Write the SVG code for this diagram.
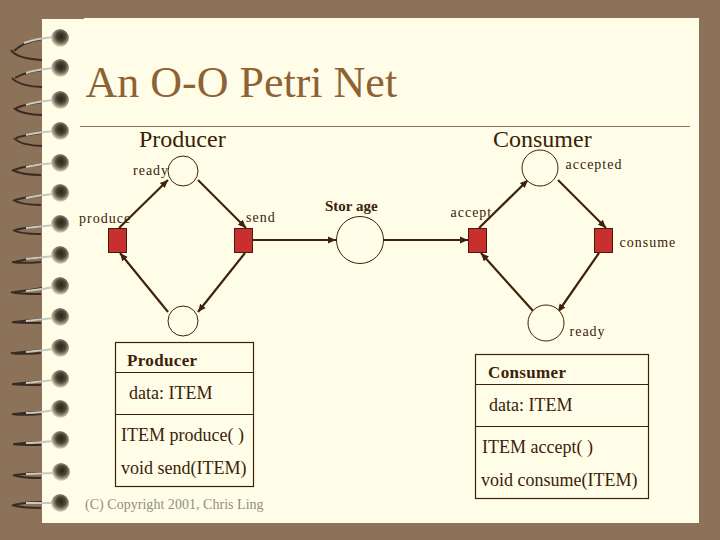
<svg xmlns="http://www.w3.org/2000/svg" width="720" height="540" viewBox="0 0 720 540">
<style>
text{font-family:"Liberation Serif","Times New Roman",serif;fill:#3a2208}
.h{font-size:24px}
.l{font-size:14px;letter-spacing:1px}
.b{font-size:17px;font-weight:bold;letter-spacing:.35px}
.m{font-size:18px}
.place{fill:#fffde8;stroke:#3a2208;stroke-width:1}
.trans{fill:#c8302f;stroke:#4a1c08;stroke-width:1}
.box{fill:none;stroke:#3a2208;stroke-width:1.2}
.arc{stroke:#3f2308;stroke-width:2.2;fill:none;marker-end:url(#ah)}
.rd{fill:none;stroke:#3a2c22;stroke-width:2}
.rl{fill:none;stroke:#c8cabf;stroke-width:2}
</style>
<defs>
<marker id="ah" markerUnits="userSpaceOnUse" markerWidth="9" markerHeight="9" refX="8" refY="4.500" orient="auto"><path d="M0 1 L8 4.500 L0 8 Z" fill="#3f2308"/></marker>
<radialGradient id="bg" cx="55%" cy="42%" r="58%"><stop offset="0" stop-color="#26241c"/><stop offset=".45" stop-color="#4a4636"/><stop offset=".75" stop-color="#97957c"/><stop offset="1" stop-color="#e6e4ca"/></radialGradient>
<filter id="soft" x="-5%" y="-5%" width="110%" height="110%"><feGaussianBlur stdDeviation=".45"/></filter>
<ellipse id="knob" cx="0" cy="0" rx="9" ry="9" fill="url(#bg)"/>
</defs>
<rect width="720" height="540" fill="#8b7259"/>
<path d="M42 19 H84 V18 H699 V523 H42 Z" fill="#fffde8"/>
<g id="spiral" filter="url(#soft)">
<path class="rd" d="M11 50 C14 55 25 59 42 60M14 51 C20 45 30 41 42 39"/><path class="rl" d="M24 43 C32 40 42 38 54 37"/>
<path class="rd" d="M12 78 C16 83 28 87 42 87M15 78 C22 74 32 71 42 70"/><path class="rl" d="M26 73 C34 70 44 69 54 68"/>
<path class="rd" d="M14 108 C18 112 30 115 42 115M16 108 C24 105 34 103 42 102"/><path class="rl" d="M26 105 C34 102 44 101 54 100"/>
<path class="rd" d="M14 138 C18 143 30 146 42 146M16 138 C24 135 34 134 42 133"/><path class="rl" d="M26 135 C34 133 44 132 54 131"/>
<path class="rd" d="M12 170 C18 173 30 175 41 175M14 170 C22 167 32 165 42 165"/><path class="rl" d="M26 167 C34 165 44 164 54 163"/>
<path class="rd" d="M13 200 C18 203 30 205 41 205M15 200 C22 198 32 196 42 196"/><path class="rl" d="M26 198 C34 196 44 195 54 194"/>
<path class="rd" d="M13 230 C18 233 30 234 41 234M15 230 C22 228 32 227 42 226"/><path class="rl" d="M26 228 C34 227 44 226 54 225"/>
<path class="rd" d="M12 262 C18 263 30 263 41 262M14 262 C22 260 32 258 42 257"/><path class="rl" d="M26 259 C34 258 44 257 54 256"/>
<path class="rd" d="M11 292 C18 294 30 294 41 294M14 292 C22 291 32 290 42 288"/><path class="rl" d="M26 291 C34 290 44 289 54 287"/>
<path class="rd" d="M12 322 C18 323 30 323 41 323M14 322 C22 321 32 320 42 319"/><path class="rl" d="M26 321 C34 320 44 319 54 318"/>
<path class="rd" d="M11 353 C18 354 30 354 41 353M14 353 C22 352 32 351 42 350"/><path class="rl" d="M26 352 C34 351 44 350 54 349"/>
<path class="rd" d="M12 384 C18 385 30 385 41 385M14 384 C22 383 32 382 42 381"/><path class="rl" d="M26 383 C34 382 44 381 54 380"/>
<path class="rd" d="M12 414 C18 415 30 415 41 414M14 414 C22 413 32 412 42 412"/><path class="rl" d="M26 413 C34 413 44 412 54 410"/>
<path class="rd" d="M13 444 C18 445 30 445 41 445M15 444 C22 443 32 442 42 442"/><path class="rl" d="M26 443 C34 443 44 442 54 441"/>
<path class="rd" d="M13 475 C18 477 30 478 41 478M15 475 C22 474 32 473 42 473"/><path class="rl" d="M26 474 C34 474 44 473 54 473"/>
<path class="rd" d="M12 505 C18 507 30 508 41 508M14 505 C22 503 32 502 42 502"/><path class="rl" d="M26 503 C34 503 44 503 54 503"/>
<use href="#knob" x="60" y="38"/><use href="#knob" x="60" y="68"/><use href="#knob" x="60" y="100"/><use href="#knob" x="60" y="131"/>
<use href="#knob" x="60" y="163"/><use href="#knob" x="60" y="193"/><use href="#knob" x="60" y="224"/><use href="#knob" x="60" y="255"/>
<use href="#knob" x="60" y="286"/><use href="#knob" x="60" y="317"/><use href="#knob" x="60" y="348"/><use href="#knob" x="60" y="379"/>
<use href="#knob" x="60" y="409"/><use href="#knob" x="60" y="440"/><use href="#knob" x="61" y="472"/><use href="#knob" x="60" y="503"/>
</g>
<text x="85.500" y="97" style="font-size:44px;fill:#8f6234">An O-O Petri Net</text>
<line x1="80" y1="126.500" x2="690" y2="126.500" stroke="#8b7259" stroke-width="1"/>
<text class="h" x="139" y="147">Producer</text>
<text class="h" x="493" y="147">Consumer</text>
<g id="connectors">
<line class="arc" x1="119" y1="228" x2="168" y2="180"/>
<line class="arc" x1="198" y1="180" x2="246" y2="228"/>
<line class="arc" x1="245" y1="253" x2="198" y2="312"/>
<line class="arc" x1="168" y1="312" x2="120" y2="253"/>
<line class="arc" x1="253" y1="240" x2="336" y2="240"/>
<line class="arc" x1="384" y1="240" x2="468" y2="240"/>
<line class="arc" x1="479" y1="228" x2="528" y2="180"/>
<line class="arc" x1="558" y1="180" x2="606" y2="228"/>
<line class="arc" x1="599" y1="253" x2="558" y2="312"/>
<line class="arc" x1="534" y1="312" x2="481" y2="253"/>
</g>
<g id="p-ready"><circle class="place" cx="183" cy="171" r="15"/><text class="l" x="133" y="175">ready</text></g>
<g id="p-idle"><circle class="place" cx="183" cy="321" r="15"/></g>
<g id="t-produce"><rect class="trans" x="108.500" y="228.500" width="18" height="24"/><text class="l" x="79" y="223">produce</text></g>
<g id="t-send"><rect class="trans" x="234.500" y="228.500" width="18" height="24"/><text class="l" x="246" y="222">send</text></g>
<g id="p-storage"><circle class="place" cx="360" cy="240" r="23.500"/><text x="325" y="211" style="font-size:15px;font-weight:bold">Stor age</text></g>
<g id="t-accept"><rect class="trans" x="468.500" y="228.500" width="18" height="24"/><text class="l" x="450.500" y="217">accept</text></g>
<g id="t-consume"><rect class="trans" x="594.500" y="228.500" width="18" height="24"/><text class="l" x="619.500" y="247">consume</text></g>
<g id="p-accepted"><circle class="place" cx="540" cy="168" r="18"/><text class="l" x="565.500" y="169">accepted</text></g>
<g id="p-ready2"><circle class="place" cx="546" cy="323" r="18"/><text class="l" x="569.500" y="336">ready</text></g>
<g id="class-producer">
<rect class="box" x="115.500" y="342.500" width="138" height="144"/>
<line class="box" x1="115.500" y1="372.500" x2="253.500" y2="372.500"/>
<line class="box" x1="115.500" y1="414.500" x2="253.500" y2="414.500"/>
<text class="b" x="127" y="366">Producer</text>
<text class="m" x="129" y="399">data: ITEM</text>
<text class="m" x="121" y="441">ITEM produce( )</text>
<text class="m" x="121" y="474">void send(ITEM)</text>
</g>
<g id="class-consumer">
<rect class="box" x="475.500" y="354.500" width="173" height="144"/>
<line class="box" x1="475.500" y1="384.500" x2="648.500" y2="384.500"/>
<line class="box" x1="475.500" y1="426.500" x2="648.500" y2="426.500"/>
<text class="b" x="488" y="378">Consumer</text>
<text class="m" x="489" y="411">data: ITEM</text>
<text class="m" x="482" y="453">ITEM accept( )</text>
<text class="m" x="481" y="486">void consume(ITEM)</text>
</g>
<text x="85" y="509" style="font-size:14px;fill:#8f8f7e;letter-spacing:.03px">(C) Copyright 2001, Chris Ling</text>
</svg>
